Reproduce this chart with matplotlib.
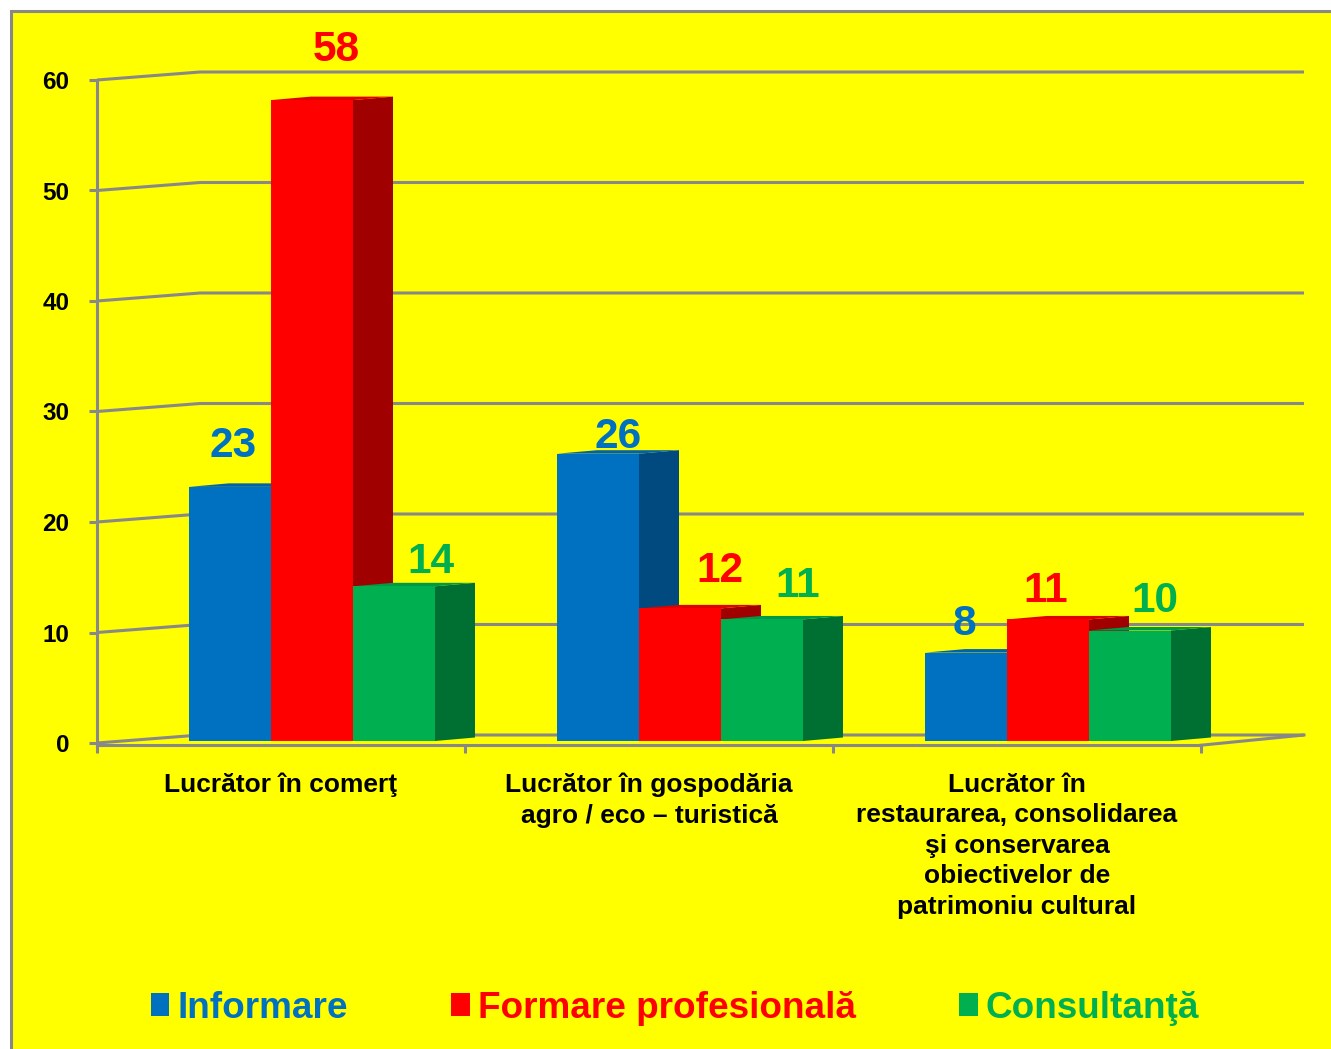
import matplotlib
matplotlib.use("Agg")
import matplotlib.pyplot as plt
from matplotlib.patches import Polygon, Rectangle, Patch
from matplotlib.ticker import FixedLocator

plt.rcParams['font.family'] = ['Liberation Sans', 'DejaVu Sans']
plt.rcParams['font.weight'] = 'bold'

# ---------------- data ----------------
categories = [
    "Lucrător în comerţ",
    "Lucrător în gospodăria\nagro / eco – turistică",
    "Lucrător în\nrestaurarea, consolidarea\nşi conservarea\nobiectivelor de\npatrimoniu cultural",
]
series_names = ["Informare", "Formare profesională", "Consultanţă"]
informare = [23, 26, 8]
formare = [58, 12, 11]
consultanta = [14, 11, 10]
y_ticks = [0, 10, 20, 30, 40, 50, 60]

# ---------------- styles ----------------
front_colors = ["#0070C0", "#FF0000", "#00B050"]
side_colors = ["#004A80", "#A00000", "#006F32"]
top_colors = ["#0062A8", "#E00000", "#009A46"]
label_colors = ["#0070C0", "#FF0000", "#00B050"]
grid_color = "#888888"
# manual label nudges (px): (dx, gap above bar top)
label_nudges = [
    [(3, 30), (24, 39), (37, 13)],
    [(20, 6), (40, 26), (36, 22)],
    [(-2, 18), (-2, 17), (25, 18)],
]

W, H = 1331, 1049
fig = plt.figure(figsize=(W / 100, H / 100), dpi=100)
fig.patch.set_facecolor("white")
bg = Rectangle((11 / W, -0.05), 1.1, 1 - 11 / H + 0.05,
               transform=fig.transFigure, facecolor="#FFFF00",
               edgecolor=grid_color, linewidth=2.2, zorder=-10)
fig.patches.append(bg)

px_per_cat = 368.0
px_per_unit = 11.05
ylo, yhi = -0.2, 62
xhi = 3.3
left_px, base_px = 97, 743
ax_w = xhi * px_per_cat
ax_top_px = base_px - yhi * px_per_unit
ax_bot_px = base_px - ylo * px_per_unit
ax = fig.add_axes([left_px / W, (H - ax_bot_px) / H, ax_w / W, (ax_bot_px - ax_top_px) / H])
ax.set_zorder(5)
ax.set_xlim(0, xhi)
ax.set_ylim(ylo, yhi)
ax.patch.set_alpha(0)

# wall depth and bar depth in data units
dxw, dyw = 103 / px_per_cat, 8 / px_per_unit
dxb, dyb = 40 / px_per_cat, 3.5 / px_per_unit
shift_x, shift_y = 31 / px_per_cat, 2 / px_per_unit
bw = 82 / px_per_cat
ncat = len(categories)

# back wall gridlines with slanted left connectors
for v in y_ticks:
    ax.plot([0, dxw, ncat + dxw], [v, v + dyw, v + dyw], color=grid_color,
            lw=2.2, zorder=1, solid_capstyle="butt", clip_on=False)
# floor right edge
ax.plot([ncat, ncat + dxw], [ylo, dyw], color=grid_color, lw=2.2, zorder=1, clip_on=False)

series = [informare, formare, consultanta]
for c in range(ncat):
    for i, vals in enumerate(series):
        v = vals[c]
        xc = c + 0.5 + shift_x + (i - 1) * bw
        xl, xr = xc - bw / 2, xc + bw / 2
        b = shift_y
        z = 3 + c * 10 + i * 2
        side = Polygon([(xr, b), (xr + dxb, b + dyb), (xr + dxb, b + v + dyb), (xr, b + v)],
                       closed=True, facecolor=side_colors[i], edgecolor="none", zorder=z)
        top = Polygon([(xl, b + v), (xr, b + v), (xr + dxb, b + v + dyb), (xl + dxb, b + v + dyb)],
                      closed=True, facecolor=top_colors[i], edgecolor="none", zorder=z)
        ax.add_patch(side)
        ax.add_patch(top)
        ax.bar(xc, v, width=bw, bottom=b, color=front_colors[i], zorder=z + 1, linewidth=0)
        ndx, ngap = label_nudges[c][i]
        ax.annotate(str(v), (xc, b + v), xytext=(ndx * 0.72, ngap * 0.72),
                    textcoords="offset points", ha="center", va="baseline",
                    fontsize=30.5, fontweight="bold", color=label_colors[i], zorder=50)

# spines / ticks
for s in ["top", "right"]:
    ax.spines[s].set_visible(False)
for s in ["left", "bottom"]:
    ax.spines[s].set_color(grid_color)
    ax.spines[s].set_linewidth(2.2)
ax.spines["left"].set_bounds(ylo, 60)
ax.spines["bottom"].set_bounds(0, ncat)
ax.set_yticks(y_ticks)
ax.set_yticklabels([str(t) for t in y_ticks], fontsize=17.5, fontweight="bold")
ax.tick_params(axis="y", length=6, width=2.2, color=grid_color, pad=14)
ax.set_xticks([c + 0.5 for c in range(ncat)])
ax.set_xticklabels(categories, fontsize=19, fontweight="bold", linespacing=1.34, va="top")
ax.xaxis.set_minor_locator(FixedLocator(list(range(ncat + 1))))
ax.tick_params(axis="x", which="major", length=0, pad=20)
ax.tick_params(axis="x", which="minor", length=6, width=2.2, color=grid_color)

handles = [Patch(facecolor=col, edgecolor="none") for col in front_colors]
fig.legend(handles, series_names, loc="center", bbox_to_anchor=(675 / W, 1 - 1008 / H),
           ncol=3, frameon=False, handlelength=0.5, handleheight=0.55,
           handletextpad=0.22, columnspacing=2.8, labelcolor=label_colors,
           prop={"weight": "bold", "size": 26.6})

fig.savefig("out.png", dpi=100)
